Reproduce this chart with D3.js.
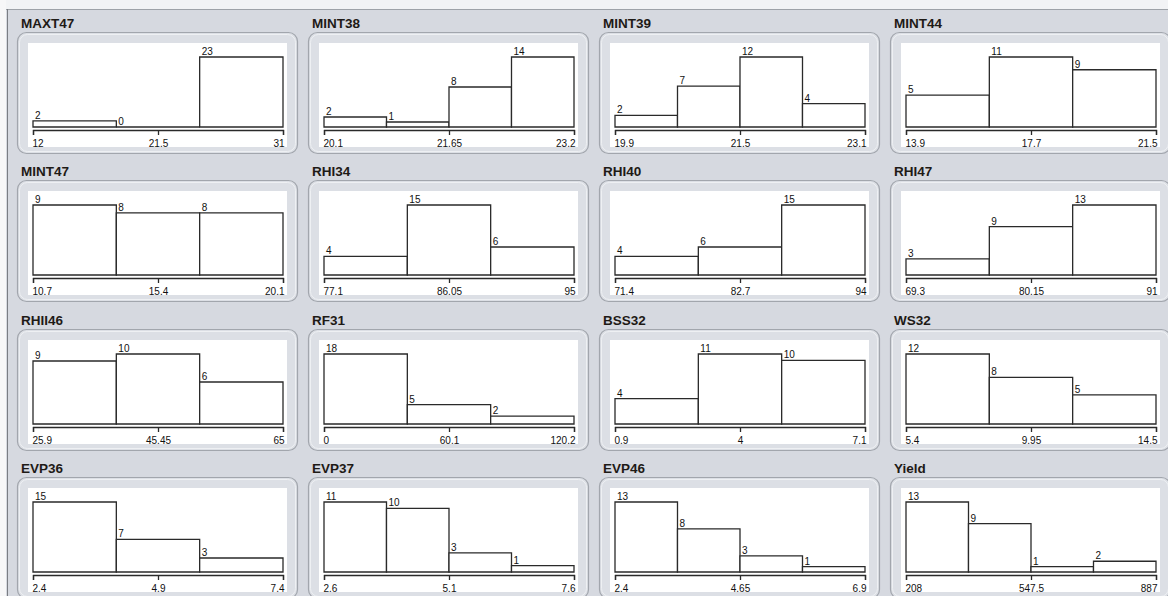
<!DOCTYPE html>
<html>
<head>
<meta charset="utf-8">
<script src="https://cdn.jsdelivr.net/npm/d3@7"></script>
<style>
  html, body { margin: 0; padding: 0; background: #d6d9e0; overflow: hidden; }
  svg { display: block; }
</style>
</head>
<body>
<svg id="chart" width="1168" height="596"></svg>
<script>
// Variables shown, one histogram panel each (row by row, four per row)
const variables = [
  "MAXT47", "MINT38", "MINT39", "MINT44",
  "MINT47", "RHI34", "RHI40", "RHI47",
  "RHII46", "RF31", "BSS32", "WS32",
  "EVP36", "EVP37", "EVP46", "Yield"
];

// Range of each variable
const minValues = [12, 20.1, 19.9, 13.9, 10.7, 77.1, 71.4, 69.3, 25.9, 0, 0.9, 5.4, 2.4, 2.6, 2.4, 208];
const maxValues = [31, 23.2, 23.1, 21.5, 20.1, 95, 94, 91, 65, 120.2, 7.1, 14.5, 7.4, 7.6, 6.9, 887];

// Axis tick labels: minimum, midpoint, maximum
const minLabels = ["12", "20.1", "19.9", "13.9", "10.7", "77.1", "71.4", "69.3", "25.9", "0", "0.9", "5.4", "2.4", "2.6", "2.4", "208"];
const midLabels = ["21.5", "21.65", "21.5", "17.7", "15.4", "86.05", "82.7", "80.15", "45.45", "60.1", "4", "9.95", "4.9", "5.1", "4.65", "547.5"];
const maxLabels = ["31", "23.2", "23.1", "21.5", "20.1", "95", "94", "91", "65", "120.2", "7.1", "14.5", "7.4", "7.6", "6.9", "887"];

// Frequency of each equal-width bin
const binCounts = [
  [2, 0, 23], [2, 1, 8, 14], [2, 7, 12, 4], [5, 11, 9],
  [9, 8, 8], [4, 15, 6], [4, 6, 15], [3, 9, 13],
  [9, 10, 6], [18, 5, 2], [4, 11, 10], [12, 8, 5],
  [15, 7, 3], [11, 10, 3, 1], [13, 8, 3, 1], [13, 9, 1, 2]
];

const svg = d3.select("#chart");
const W = 1168, H = 596;
const colStep = 291, rowStep = 148.3;
const font = "'Liberation Sans', Arial, sans-serif";

// window background and frame
svg.append("rect").attr("width", W).attr("height", H).attr("fill", "#d6d9e0");
svg.append("rect").attr("width", W).attr("height", 9).attr("fill", "#f2f3f5");
svg.append("rect").attr("width", 6).attr("height", H).attr("fill", "#f7f7f8");
svg.append("line").attr("x1", 6).attr("x2", W).attr("y1", 9.5).attr("y2", 9.5)
  .attr("stroke", "#9ea2a8");
svg.append("line").attr("x1", 7.5).attr("x2", 7.5).attr("y1", 9).attr("y2", H)
  .attr("stroke", "#7a7d83");

const plotLeft = 16, plotRight = 266, baseY = 127, axisY = 130, barMax = 70;

variables.forEach((name, i) => {
  const col = i % 4, row = Math.floor(i / 4);
  const x0 = 17 + col * colStep, y0 = Math.round(row * rowStep);
  const g = svg.append("g").attr("transform", `translate(${x0},${y0})`);

  // panel title
  g.append("text")
    .attr("x", 4).attr("y", 28)
    .attr("font-family", font).attr("font-weight", "bold").attr("font-size", "13.5px")
    .attr("fill", "#1e1a16")
    .text(name);

  // rounded frame
  g.append("rect")
    .attr("x", 0.5).attr("y", 32.5).attr("width", 280).attr("height", 121).attr("rx", 9)
    .attr("fill", "#dcdfe5").attr("stroke", "#a2a6ad").attr("stroke-width", 1.2);
  g.append("rect")
    .attr("x", 2.5).attr("y", 34.5).attr("width", 276).attr("height", 117).attr("rx", 8)
    .attr("fill", "none").attr("stroke", "#eef0f3").attr("stroke-width", 1);

  // white plotting area
  const clipId = `clip-${i}`;
  g.append("clipPath").attr("id", clipId)
    .append("rect").attr("x", 11).attr("y", 43).attr("width", 259).attr("height", 104);
  g.append("rect").attr("x", 11).attr("y", 43).attr("width", 259).attr("height", 104)
    .attr("fill", "#ffffff");

  const plot = g.append("g").attr("clip-path", `url(#${clipId})`);

  const lo = minValues[i], hi = maxValues[i], counts = binCounts[i];
  const n = counts.length;
  const x = d3.scaleLinear().domain([lo, hi]).range([plotLeft, plotRight]);
  const y = d3.scaleLinear().domain([0, d3.max(counts)]).range([baseY, baseY - barMax]);

  const bins = counts.map((c, k) => ({
    x0: lo + (hi - lo) * k / n,
    x1: lo + (hi - lo) * (k + 1) / n,
    count: c
  }));

  plot.selectAll("path.bar").data(bins).join("path")
    .attr("class", "bar")
    .attr("d", d => {
      const a = x(d.x0), b = x(d.x1), t = y(d.count);
      return `M${a},${baseY}V${t}H${b}V${baseY}Z`;
    })
    .attr("fill", "#ffffff").attr("stroke", "#2a2a2a").attr("stroke-width", 1.3);

  plot.selectAll("text.count").data(bins).join("text")
    .attr("class", "count")
    .attr("x", d => x(d.x0) + 2)
    .attr("y", d => y(d.count) - 2)
    .attr("font-family", font).attr("font-size", "10px").attr("fill", "#111")
    .text(d => d.count);

  const tickLabels = [minLabels[i], midLabels[i], maxLabels[i]];
  const axis = d3.axisBottom(x)
    .tickValues([lo, (lo + hi) / 2, hi])
    .tickSize(5).tickSizeOuter(5).tickPadding(3)
    .tickFormat((d, k) => tickLabels[k]);

  const ax = plot.append("g").attr("transform", `translate(0,${axisY})`).call(axis);
  ax.select(".domain").attr("stroke", "#2a2a2a").attr("stroke-width", 1.3);
  ax.selectAll(".tick line").attr("stroke", "#2a2a2a").attr("stroke-width", 1.3);
  ax.selectAll(".tick text")
    .attr("font-family", font).attr("font-size", "10px").attr("fill", "#111")
    .attr("y", 10).attr("dy", "0.71em")
    .attr("text-anchor", (d, k) => k === 0 ? "start" : (k === 2 ? "end" : "middle"))
    .attr("dx", (d, k) => k === 0 ? -1 : (k === 2 ? 1 : 0));
});
</script>
</body>
</html>
